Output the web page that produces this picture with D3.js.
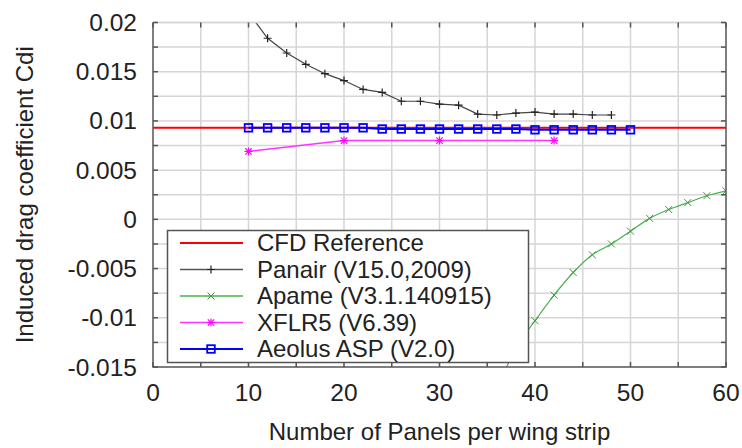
<!DOCTYPE html>
<html>
<head>
<meta charset="utf-8">
<script src="https://cdn.jsdelivr.net/npm/d3@7"></script>
<style>
  body { margin: 0; background: #fff; }
  svg { font-family: "Liberation Sans", Arial, sans-serif; }
</style>
</head>
<body>
<svg width="742" height="448"></svg>
<script>
// data
const cfdRef = 0.0093;

const panairX = [10, 12, 14, 16, 18, 20, 22, 24, 26, 28, 30, 32, 34, 36, 38, 40, 42, 44, 46, 48];
const panairY = [0.0210, 0.0184, 0.0169, 0.01575, 0.0148, 0.0141, 0.0132, 0.0129, 0.0120, 0.0120, 0.0117, 0.0116,
                 0.0107, 0.0106, 0.0108, 0.0109, 0.0107, 0.0107, 0.0106, 0.0106];

const apameX = [36, 38, 40, 42, 44, 46, 48, 50, 52, 54, 56, 58, 60];
const apameY = [-0.0172, -0.0131, -0.0103, -0.0077, -0.0054, -0.0036, -0.0025, -0.0012, 0.0001, 0.0010, 0.0017, 0.0024, 0.0029];

const xflrX = [10, 20, 30, 42];
const xflrY = [0.0069, 0.0080, 0.0080, 0.0080];

const aeolusX = [10, 12, 14, 16, 18, 20, 22, 24, 26, 28, 30, 32, 34, 36, 38, 40, 42, 44, 46, 48, 50];
const aeolusY = [0.0093, 0.0093, 0.0093, 0.0093, 0.0093, 0.0093, 0.0093, 0.00918, 0.00918, 0.00918, 0.00918, 0.00918,
                 0.00918, 0.00918, 0.00918, 0.0091, 0.0091, 0.0091, 0.0091, 0.0091, 0.0091];

const xTicks = [0, 10, 20, 30, 40, 50, 60];
const yTicks = [0.02, 0.015, 0.01, 0.005, 0, -0.005, -0.01, -0.015];
const yTickLabels = ['0.02', '0.015', '0.01', '0.005', '0', '-0.005', '-0.01', '-0.015'];

const legendNames = ['CFD Reference', 'Panair (V15.0,2009)', 'Apame (V3.1.140915)', 'XFLR5 (V6.39)', 'Aeolus ASP (V2.0)'];

const svg = d3.select('svg');
const L = 153, R = 726, T = 22.5, B = 367;

const x = d3.scaleLinear().domain([0, 60]).range([L, R]);
const y = d3.scaleLinear().domain([-0.015, 0.02]).range([B, T]);

const minorX = d3.range(0, 60.001, 5);
const minorY = d3.range(-0.015, 0.02001, 0.0025);

// grid
const grid = svg.append('g');
grid.selectAll('.gx').data(minorX.slice(1, -1)).join('line')
  .attr('x1', d => x(d)).attr('x2', d => x(d)).attr('y1', T).attr('y2', B)
  .attr('stroke', '#d6d6d6').attr('stroke-width', 1.5);
grid.selectAll('.gy').data(minorY.slice(1)).join('line')
  .attr('x1', L).attr('x2', R).attr('y1', d => y(d)).attr('y2', d => y(d))
  .attr('stroke', '#d6d6d6').attr('stroke-width', 1.5);

// clip for series
svg.append('clipPath').attr('id', 'plot')
  .append('rect').attr('x', L).attr('y', T).attr('width', R - L).attr('height', B - T);

const plot = svg.append('g').attr('clip-path', 'url(#plot)');

const line = d3.line().x(d => x(d[0])).y(d => y(d[1]));
const zip = (xs, ys) => xs.map((v, i) => [v, ys[i]]);

// markers
function plus(g, cx, cy, s, color, w) {
  g.append('path').attr('d', `M${cx - s},${cy}H${cx + s}M${cx},${cy - s}V${cy + s}`)
    .attr('stroke', color).attr('stroke-width', w).attr('fill', 'none');
}
function cross(g, cx, cy, s, color, w) {
  g.append('path').attr('d', `M${cx - s},${cy - s}L${cx + s},${cy + s}M${cx - s},${cy + s}L${cx + s},${cy - s}`)
    .attr('stroke', color).attr('stroke-width', w).attr('fill', 'none');
}
function star(g, cx, cy, s, color, w) {
  plus(g, cx, cy, s, color, w);
  cross(g, cx, cy, s * 0.8, color, w);
}
function square(g, cx, cy, s, color, w) {
  g.append('rect').attr('x', cx - s).attr('y', cy - s).attr('width', 2 * s).attr('height', 2 * s)
    .attr('stroke', color).attr('stroke-width', w).attr('fill', 'none');
}

// CFD reference
plot.append('line').attr('x1', L).attr('x2', R).attr('y1', y(cfdRef)).attr('y2', y(cfdRef))
  .attr('stroke', '#ff0000').attr('stroke-width', 2);

// Panair
const panair = zip(panairX, panairY);
plot.append('path').datum(panair).attr('d', line).attr('fill', 'none')
  .attr('stroke', '#444').attr('stroke-width', 1.2);
panair.forEach(d => plus(plot, x(d[0]), y(d[1]), 4, '#222', 1.2));

// Apame
const apame = zip(apameX, apameY);
plot.append('path').datum(apame).attr('d', d3.line().curve(d3.curveMonotoneX).x(d => x(d[0])).y(d => y(d[1])))
  .attr('fill', 'none').attr('stroke', '#4caf50').attr('stroke-width', 1.2);
apame.forEach(d => cross(plot, x(d[0]), y(d[1]), 3.5, '#3c9a3c', 1));

// XFLR5
const xflr = zip(xflrX, xflrY);
plot.append('path').datum(xflr).attr('d', line).attr('fill', 'none')
  .attr('stroke', '#ff33ff').attr('stroke-width', 1.5);
xflr.forEach(d => star(plot, x(d[0]), y(d[1]), 4, '#ff00ff', 1.2));

// Aeolus
const aeolus = zip(aeolusX, aeolusY);
plot.append('path').datum(aeolus).attr('d', line).attr('fill', 'none')
  .attr('stroke', '#0000ff').attr('stroke-width', 2);
aeolus.forEach(d => square(plot, x(d[0]), y(d[1]), 3.8, '#0000ff', 1.8));

// border: top is light, others dark
svg.append('line').attr('x1', L).attr('x2', R).attr('y1', T).attr('y2', T)
  .attr('stroke', '#d6d6d6').attr('stroke-width', 1.5);
svg.append('path').attr('d', `M${L},${T}V${B}H${R}V${T}`)
  .attr('fill', 'none').attr('stroke', '#555').attr('stroke-width', 1.5);

// ticks on all sides, pointing inward
const tk = svg.append('g').attr('stroke', '#555').attr('stroke-width', 1.5);
minorX.forEach(v => {
  tk.append('line').attr('x1', x(v)).attr('x2', x(v)).attr('y1', B).attr('y2', B - 5);
  tk.append('line').attr('x1', x(v)).attr('x2', x(v)).attr('y1', T).attr('y2', T + 5);
});
minorY.forEach(v => {
  tk.append('line').attr('x1', L).attr('x2', L + 5).attr('y1', y(v)).attr('y2', y(v));
  tk.append('line').attr('x1', R).attr('x2', R - 5).attr('y1', y(v)).attr('y2', y(v));
});

// tick labels
svg.append('g').selectAll('text').data(xTicks).join('text')
  .attr('x', d => x(d)).attr('y', 401).attr('text-anchor', 'middle')
  .attr('font-size', 24.5).attr('fill', '#222').text(d => d);
svg.append('g').selectAll('text').data(yTicks).join('text')
  .attr('x', 137).attr('y', d => y(d) + 8.5).attr('text-anchor', 'end')
  .attr('font-size', 24.5).attr('fill', '#222').text((d, i) => yTickLabels[i]);

// axis titles
svg.append('text').attr('x', (L + R) / 2).attr('y', 440).attr('text-anchor', 'middle')
  .attr('font-size', 24).attr('fill', '#222').text('Number of Panels per wing strip');
svg.append('text').attr('transform', `translate(33,${(T + B) / 2}) rotate(-90)`).attr('text-anchor', 'middle')
  .attr('font-size', 24).attr('fill', '#222').text('Induced drag coefficient Cdi');

// legend
const lg = svg.append('g');
lg.append('rect').attr('x', 167.5).attr('y', 230.5).attr('width', 361).attr('height', 132)
  .attr('fill', '#fff').attr('stroke', '#555').attr('stroke-width', 1.5);
const legendStyles = [
  { color: '#ff0000', w: 2.2, mark: null },
  { color: '#555', w: 1.3, mark: (g, cx, cy) => plus(g, cx, cy, 4, '#222', 1.2) },
  { color: '#4caf50', w: 1.3, mark: (g, cx, cy) => cross(g, cx, cy, 3.5, '#3c9a3c', 1) },
  { color: '#ff33ff', w: 1.5, mark: (g, cx, cy) => star(g, cx, cy, 4, '#ff00ff', 1.2) },
  { color: '#0000ff', w: 2, mark: (g, cx, cy) => square(g, cx, cy, 3.8, '#0000ff', 1.8) }
];
const rowY = d3.scaleLinear().domain([0, 4]).range([243, 349]);
legendNames.forEach((name, i) => {
  const cy = rowY(i), st = legendStyles[i];
  lg.append('line').attr('x1', 180).attr('x2', 243).attr('y1', cy).attr('y2', cy)
    .attr('stroke', st.color).attr('stroke-width', st.w);
  if (st.mark) st.mark(lg, 211, cy);
  lg.append('text').attr('x', 257).attr('y', cy + 8.2).attr('font-size', 24).attr('fill', '#222').text(name);
});
</script>
</body>
</html>
